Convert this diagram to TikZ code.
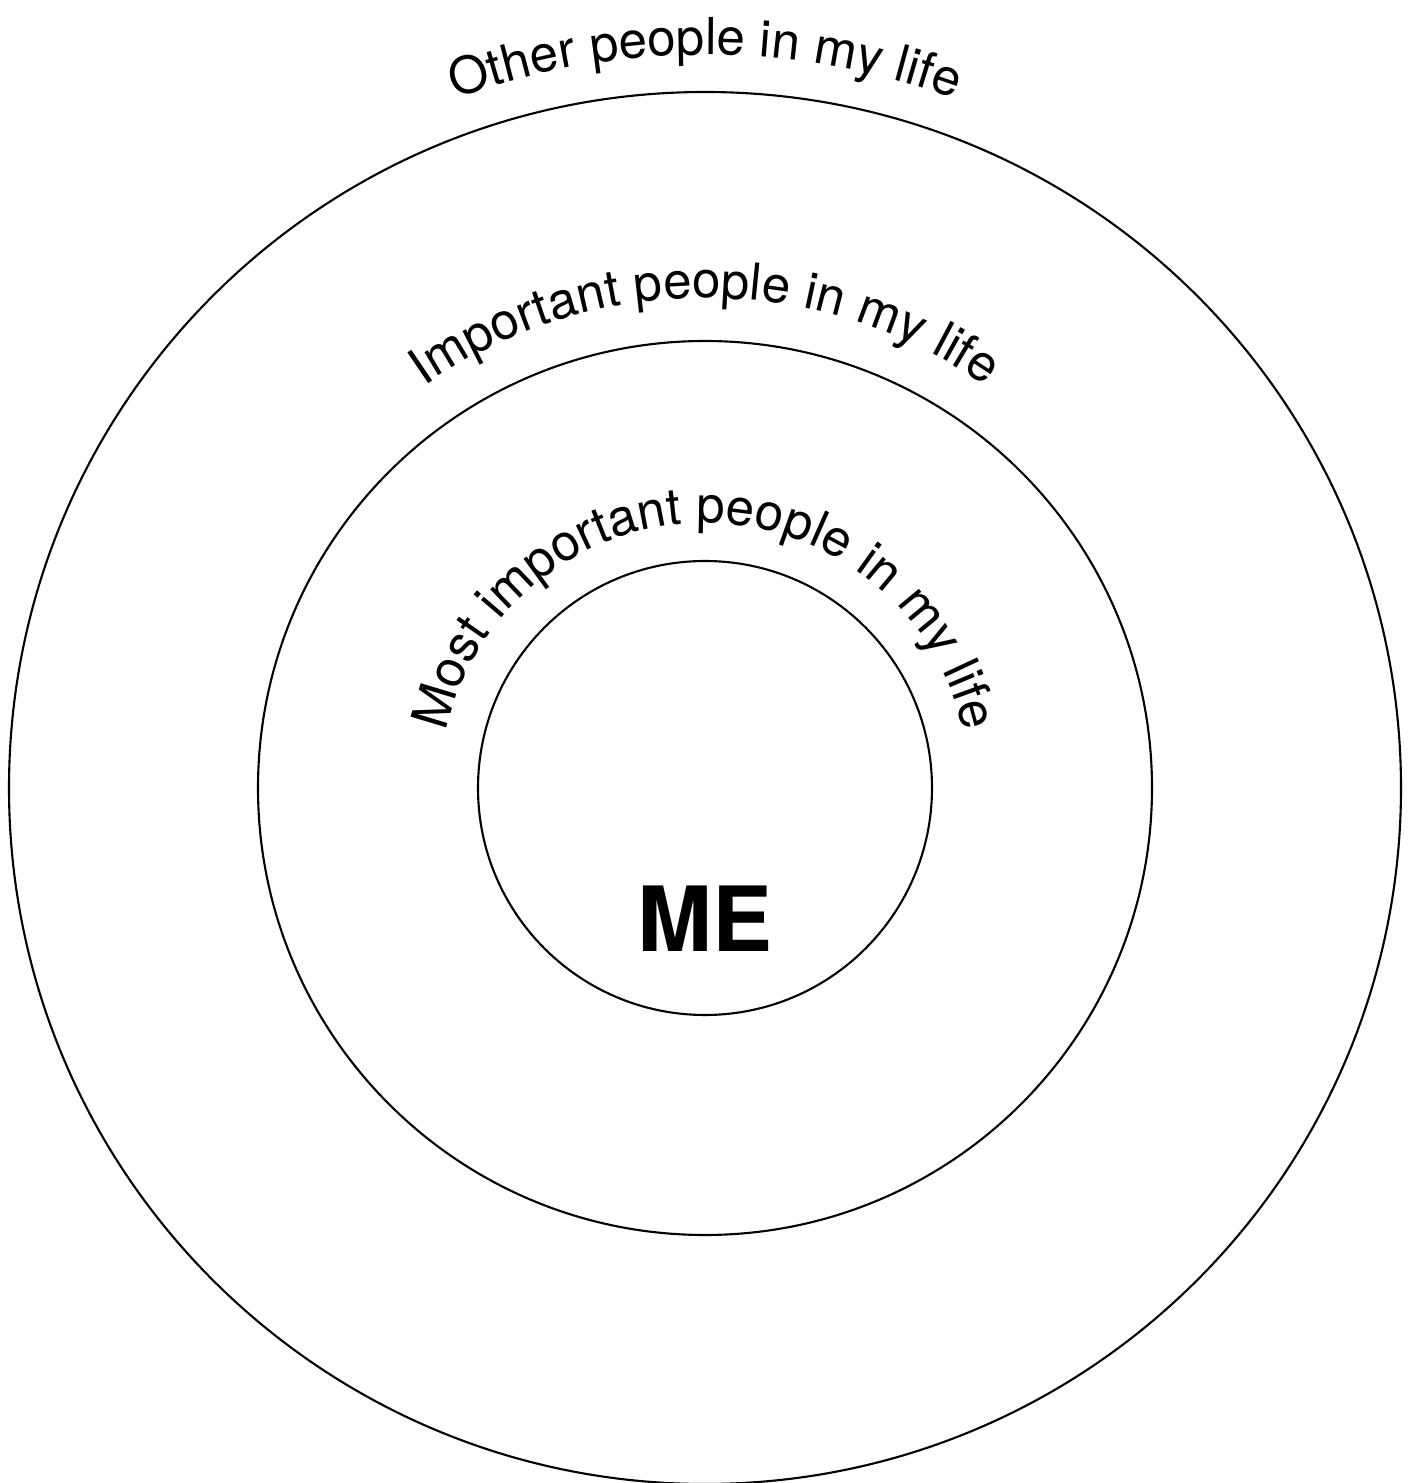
\documentclass[tikz,border=0pt]{standalone}
\usepackage{fontspec}
\setmainfont{TeX Gyre Heros}
\usepackage{tikz}
\usetikzlibrary{decorations.text}
\newcommand{\ringfont}{\fontsize{14.5}{17}\selectfont}
\tikzset{
  ring/.style={circle, draw=black, line width=0.6pt, inner sep=0pt, fill=none},
  arclabel/.style={decorate, decoration={text along path, text align=center, text={|\ringfont|#1}}},
  melabel/.style={font=\fontsize{25.6}{30}\selectfont\bfseries, anchor=base, inner sep=0pt}
}

\begin{document}
\begin{tikzpicture}
  \useasboundingbox (0,0) rectangle (14.13,14.83);
  \coordinate (centre) at (7.05,6.95);

  \node[ring, minimum size=13.92cm] (outer) at (centre) {};
  \node[ring, minimum size=8.94cm] (middle) at (centre) {};
  \node[ring, minimum size=4.54cm] (inner) at (centre) {};

  % texts running along the rings
  \path[arclabel={Other people in my life}]
    ([shift={(180:7.33)}]centre) arc[start angle=180, end angle=0, radius=7.33];
  \path[arclabel={Important people in my life}]
    ([shift={(180:4.90)}]centre) arc[start angle=180, end angle=0, radius=4.90];
  \path[arclabel={Most important people in my life}]
    ([shift={(180:2.65)}]centre) arc[start angle=180, end angle=0, radius=2.65];

  \node[melabel] (me) at (7.05,5.31) {ME};
\end{tikzpicture}
\end{document}
